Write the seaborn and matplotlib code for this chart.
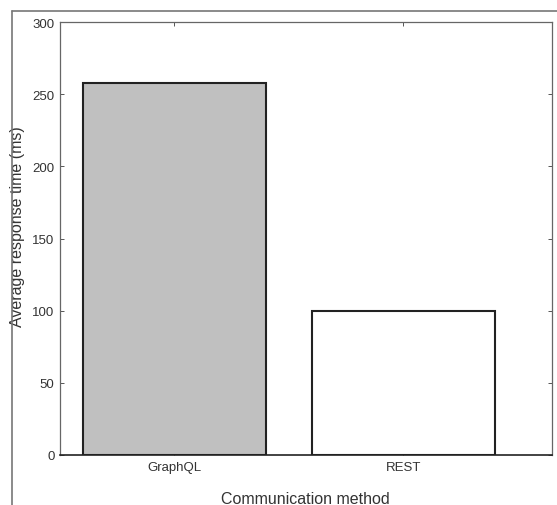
import matplotlib
matplotlib.use("Agg")
import matplotlib.pyplot as plt
from matplotlib.lines import Line2D
import seaborn as sns
import pandas as pd

methods = ["GraphQL", "REST"]
response_ms = [258, 100]
fill_colors = ["#c0c0c0", "#ffffff"]

sns.set_theme(style="white")
plt.rcParams["font.family"] = ["Liberation Sans", "DejaVu Sans"]

df = pd.DataFrame({"method": methods, "time": response_ms})

fig = plt.figure(figsize=(5.57, 5.06), dpi=100)
ax = fig.add_axes([60 / 557, 1 - 456 / 506, (552 - 60) / 557, (456 - 23) / 506])

sns.barplot(data=df, x="method", y="time", hue="method", palette=fill_colors,
            order=methods, hue_order=methods, width=0.8, dodge=False,
            edgecolor="#222222", linewidth=1.5, legend=False, ax=ax)

ax.set_xlim(-0.5, 1.65)
ax.set_ylim(0, 300)
ax.set_yticks([0, 50, 100, 150, 200, 250, 300])
ax.set_xlabel("Communication method", fontsize=11.5, color="#333333")
ax.set_ylabel("Average response time (ms)", fontsize=11.5, color="#333333")
ax.xaxis.set_label_coords(0.498, -0.084)
ax.yaxis.set_label_coords(-0.071, 0.529)
ax.tick_params(axis="both", which="both", direction="in", length=3, width=0.7,
               colors="#555555", labelcolor="#333333", labelsize=9.5,
               top=True, right=True, bottom=True, left=True, pad=4)
for s in ax.spines.values():
    s.set_visible(True)
    s.set_color("#666666")
    s.set_linewidth(0.9)
ax.spines["bottom"].set_color("#222222")
ax.spines["bottom"].set_linewidth(1.2)

# outer frame lines
fig.add_artist(Line2D([12 / 557, 1.0], [1 - 11.5 / 506, 1 - 11.5 / 506],
                      transform=fig.transFigure, color="#777777", lw=1.2))
fig.add_artist(Line2D([12 / 557, 12 / 557], [0.0, 1 - 11.5 / 506],
                      transform=fig.transFigure, color="#777777", lw=1.2))

fig.savefig("out.png", dpi=100)
